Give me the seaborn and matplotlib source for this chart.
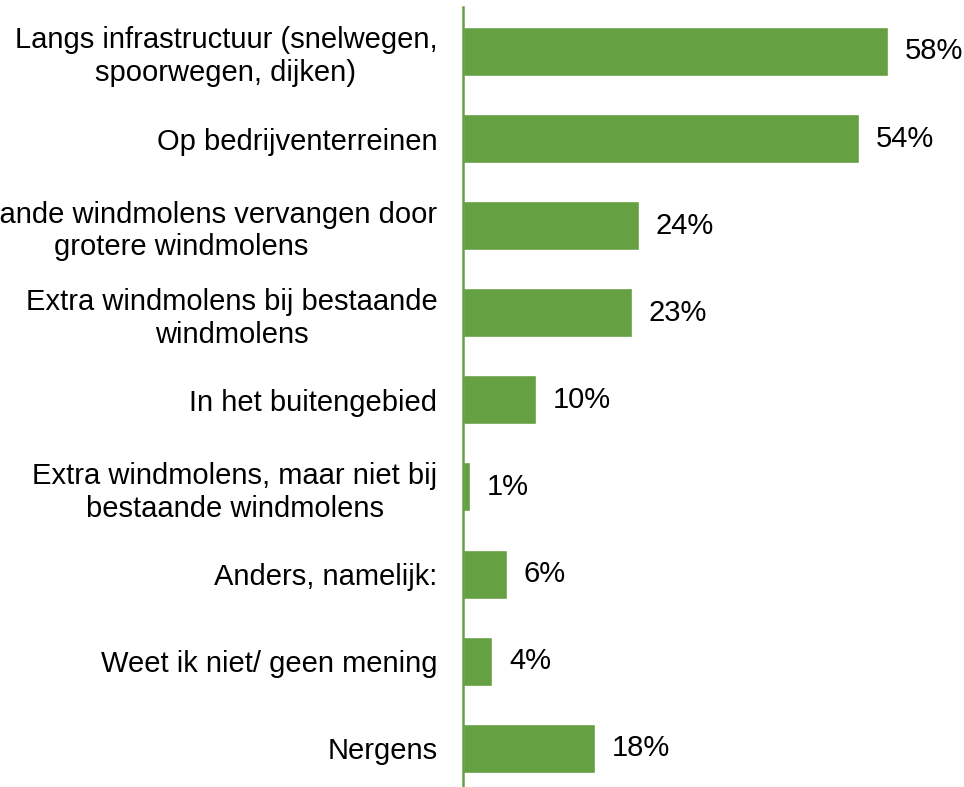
import matplotlib
matplotlib.use("Agg")
import matplotlib.pyplot as plt
import seaborn as sns
import pandas as pd

# Survey answers: where should new wind turbines be placed?
categories = [
    "Langs infrastructuur (snelwegen,\nspoorwegen, dijken)",
    "Op bedrijventerreinen",
    "Bestaande windmolens vervangen door\ngrotere windmolens",
    "Extra windmolens bij bestaande\nwindmolens",
    "In het buitengebied",
    "Extra windmolens, maar niet bij\nbestaande windmolens",
    "Anders, namelijk:",
    "Weet ik niet/ geen mening",
    "Nergens",
]
percentages = [58, 54, 24, 23, 10, 1, 6, 4, 18]
value_labels = [f"{v}%" for v in percentages]

BAR_COLOR = "#65A042"

sns.set_theme(style="white")
plt.rcParams["font.family"] = ["Liberation Sans", "DejaVu Sans"]

df = pd.DataFrame({"categorie": categories, "percentage": percentages})

fig = plt.figure(figsize=(9.64, 7.87), dpi=100)
ax = fig.add_axes([463 / 964, 0.0, 501 / 964, 780 / 787])

sns.barplot(data=df, y="categorie", x="percentage", orient="h",
            color=BAR_COLOR, saturation=1, width=0.563, ax=ax)

ax.set_xlim(0, 68.3)
ax.set_ylim(8.445, -0.51)
ax.set_xlabel("")
ax.set_ylabel("")
ax.set_xticks([])

for side in ("top", "right", "bottom"):
    ax.spines[side].set_visible(False)
ax.spines["left"].set_color(BAR_COLOR)
ax.spines["left"].set_linewidth(1.8)

ax.tick_params(axis="y", length=0, pad=18.5, labelsize=21, labelcolor="black")
for lbl in ax.get_yticklabels():
    lbl.set_multialignment("center")
    lbl.set_linespacing(1.22)

ax.bar_label(ax.containers[0], labels=value_labels, padding=12,
             fontsize=21, color="black")

fig.savefig("out.png", dpi=100)
